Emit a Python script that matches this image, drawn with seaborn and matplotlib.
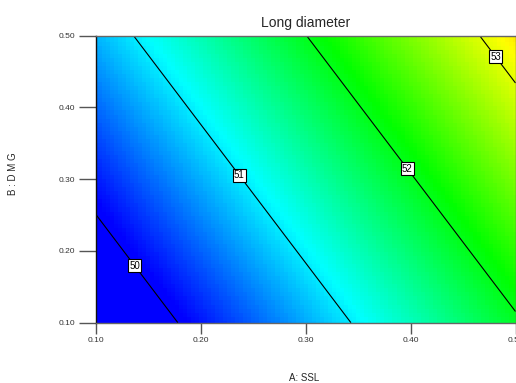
import numpy as np
import matplotlib
matplotlib.use("Agg")
import matplotlib.pyplot as plt
from matplotlib.colors import LinearSegmentedColormap
import seaborn as sns

sns.set_style("white")
plt.rcParams['font.family'] = ['Liberation Sans', 'DejaVu Sans']

title = "Long diameter"
x_label = "A: SSL"
y_label = "B : D M G"
a_range = [0.10, 0.50]
b_range = [0.10, 0.50]
intercept = 48.607
coef_a = 6.06
coef_b = 3.14
levels = [50, 51, 52, 53]
label_pos = [(0.140, 0.183), (0.238, 0.307), (0.398, 0.316), (0.482, 0.472)]
ticks = [0.10, 0.20, 0.30, 0.40, 0.50]
tick_labels = ["0.10", "0.20", "0.30", "0.40", "0.50"]
color_min, color_max = 50.05, 54.15

A = np.linspace(a_range[0], a_range[1], 105)
B = np.linspace(b_range[0], b_range[1], 72)
AA, BB = np.meshgrid(A, B)
Z = intercept + coef_a * AA + coef_b * BB

cmap = LinearSegmentedColormap.from_list(
    "de", ["#0000ff", "#00ffff", "#00ff00", "#ffff00", "#ff0000"])

fig = plt.figure(figsize=(5.16, 3.83), dpi=100)
ax = fig.add_axes([96/516, 1-322.7/383, (515.5-96)/516, (322.7-35.7)/383])
ax.pcolormesh(AA, BB, Z, cmap=cmap, vmin=color_min, vmax=color_max, shading="nearest")
cs = ax.contour(AA, BB, Z, levels=levels, colors="black", linewidths=0.8)
cl = ax.clabel(cs, fmt="%d", manual=label_pos, inline=False, fontsize=7)
for t in cl:
    t.set_rotation(0)
    t.set_bbox(dict(facecolor="white", edgecolor="black", pad=1.0, linewidth=0.8))

ax.set_xlim(a_range)
ax.set_ylim(b_range)
ax.set_xticks(ticks)
ax.set_xticklabels(tick_labels)
ax.set_yticks(ticks)
ax.set_yticklabels(tick_labels)
ax.tick_params(axis="x", direction="out", length=8, width=1, color="#555555",
               labelsize=6, labelcolor="#333333", pad=2, bottom=True)
ax.tick_params(axis="y", direction="out", length=12, width=1, color="#555555",
               labelsize=6, labelcolor="#333333", pad=3, left=True)
ax.spines["left"].set_color("#111111")
for s in ["top", "bottom", "right"]:
    ax.spines[s].set_color("#666666")
for s in ax.spines.values():
    s.set_linewidth(1)

ax.set_title(title, fontsize=10, pad=6)
ax.set_xlabel(x_label, fontsize=7)
ax.set_ylabel(y_label, fontsize=7)
ax.xaxis.set_label_coords(0.497, -0.175)
ax.yaxis.set_label_coords(-0.187, 0.52)

fig.savefig("out.png", dpi=100)
